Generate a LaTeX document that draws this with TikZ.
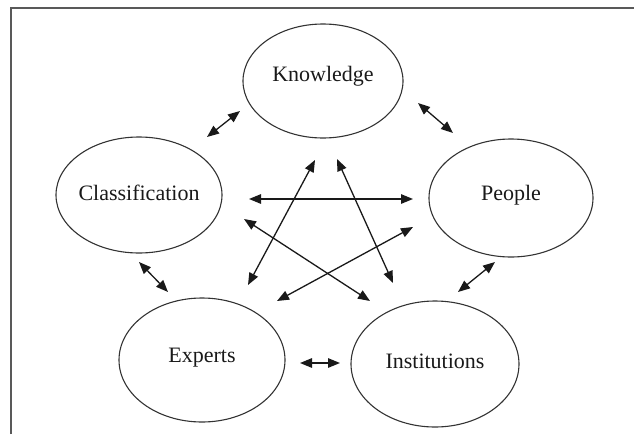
\documentclass[tikz,border=0pt]{standalone}
\usepackage{fontspec}
\setmainfont{Liberation Serif}
\usetikzlibrary{shapes.geometric,arrows.meta}
\begin{document}
\begin{tikzpicture}[x=1pt,y=-1pt,
  bubble/.style={draw=black!80, line width=1.1pt, ellipse, inner sep=0pt, outer sep=0pt},
  caption/.style={font=\fontsize{22}{26}\selectfont, text=black!90},
  link/.style={line width=1.3pt, black!90,
    {Triangle[length=12pt,width=9.5pt]}-{Triangle[length=12pt,width=9.5pt]}},
  frameline/.style={draw=black!65, line width=2pt}]
\useasboundingbox (0,0) rectangle (634,434);

% page frame
\draw[frameline] (11,434) -- (11,8) -- (634,8);

% the five concepts
\node[bubble, minimum width=160pt, minimum height=114pt] (kn) at (323,81) {};
\node[caption] (knt) at (323,76) {Knowledge};
\node[bubble, minimum width=166pt, minimum height=116pt] (cl) at (139,195) {};
\node[caption] (clt) at (139,193) {Classification};
\node[bubble, minimum width=164pt, minimum height=118pt] (pe) at (511,198) {};
\node[caption] (pet) at (511,195) {People};
\node[bubble, minimum width=166pt, minimum height=124pt] (ex) at (202,360) {};
\node[caption] (ext) at (202,358) {Experts};
\node[bubble, minimum width=168pt, minimum height=126pt] (in) at (435,364) {};
\node[caption] (int) at (435,361) {Institutions};

% arrow end points
\coordinate (cl-kn-a) at (207,137);
\coordinate (cl-kn-b) at (240,111);
\coordinate (kn-pe-a) at (418,103);
\coordinate (kn-pe-b) at (453,133);
\coordinate (cl-pe-a) at (249,199);
\coordinate (cl-pe-b) at (413,199);
\coordinate (kn-ex-a) at (315,160);
\coordinate (kn-ex-b) at (248,285);
\coordinate (kn-in-a) at (337,159);
\coordinate (kn-in-b) at (393,283);
\coordinate (cl-in-a) at (244,219);
\coordinate (cl-in-b) at (370,301);
\coordinate (pe-ex-a) at (413,227);
\coordinate (pe-ex-b) at (277,301);
\coordinate (cl-ex-a) at (139,262);
\coordinate (cl-ex-b) at (168,292);
\coordinate (ex-in-a) at (300,363);
\coordinate (ex-in-b) at (340,363);
\coordinate (pe-in-a) at (495,262);
\coordinate (pe-in-b) at (458,292);

% two-way links
\draw[link] (cl-kn-a) -- (cl-kn-b);
\draw[link] (kn-pe-a) -- (kn-pe-b);
\draw[link] (cl-pe-a) -- (cl-pe-b);
\draw[link] (kn-ex-a) -- (kn-ex-b);
\draw[link] (kn-in-a) -- (kn-in-b);
\draw[link] (cl-in-a) -- (cl-in-b);
\draw[link] (pe-ex-a) -- (pe-ex-b);
\draw[link] (cl-ex-a) -- (cl-ex-b);
\draw[link] (ex-in-a) -- (ex-in-b);
\draw[link] (pe-in-a) -- (pe-in-b);
\end{tikzpicture}
\end{document}
